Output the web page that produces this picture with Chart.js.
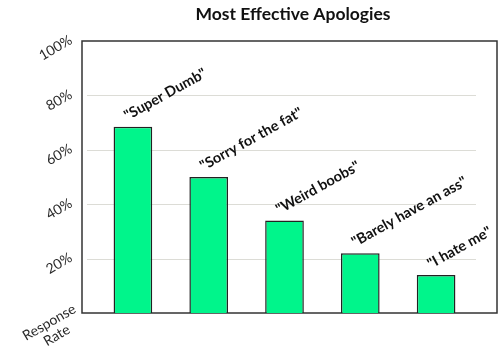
<!DOCTYPE html>
<html>
<head>
<meta charset="utf-8">
<script src="https://cdn.jsdelivr.net/npm/chart.js@4.4.0/dist/chart.umd.min.js"></script>
<style>
  html, body { margin: 0; padding: 0; background: #fff; }
  #wrap { width: 500px; height: 349px; }
</style>
</head>
<body>
<div id="wrap"><canvas id="chart"></canvas></div>
<script>
const categories = ['"Super Dumb"', '"Sorry for the fat"', '"Weird boobs"', '"Barely have an ass"', '"I hate me"'];
const responseRate = [68.5, 50, 34, 22, 14];
const tickValues = [20, 40, 60, 80, 100];
const tickLabels = ["20%", "40%", "60%", "80%", "100%"];

const deg = Math.PI / 180;

const decorPlugin = {
  id: "decor",
  beforeDatasetsDraw: (chart) => {
    const ctx = chart.ctx;
    const y = chart.scales.y;
    ctx.save();
    // gridlines (no line at 100%, the box covers it)
    ctx.strokeStyle = "#dcdcd6";
    ctx.lineWidth = 1;
    tickValues.forEach((v) => {
      if (v >= 100) return;
      const py = Math.round(y.getPixelForValue(v)) + 0.5;
      ctx.beginPath();
      ctx.moveTo(87, py);
      ctx.lineTo(476, py);
      ctx.stroke();
    });
    // frame
    const top = y.getPixelForValue(100);
    const bottom = y.getPixelForValue(0);
    ctx.strokeStyle = "#333";
    ctx.lineWidth = 1.5;
    ctx.strokeRect(82, top, 415, bottom - top);
    ctx.restore();
  },
  afterDraw: (chart) => {
    const ctx = chart.ctx;
    const y = chart.scales.y;
    ctx.save();

    // title
    ctx.fillStyle = "#111";
    ctx.font = "bold 17.5px Lato";
    ctx.textAlign = "center";
    ctx.textBaseline = "middle";
    ctx.fillText("Most Effective Apologies", 293, 14);

    // rotated y tick labels
    ctx.fillStyle = "#2a2a2a";
    ctx.font = "14px Lato";
    tickValues.forEach((v, i) => {
      ctx.save();
      ctx.translate(71, y.getPixelForValue(v) - 2);
      ctx.rotate(-30 * deg);
      ctx.textAlign = "right";
      ctx.textBaseline = "middle";
      ctx.fillText(tickLabels[i], 0, 0);
      ctx.restore();
    });

    // axis title
    ctx.save();
    ctx.translate(53, 329);
    ctx.rotate(-30 * deg);
    ctx.textAlign = "center";
    ctx.textBaseline = "middle";
    ctx.fillText("Response", 0, -7.5);
    ctx.fillText("Rate", 0, 7.5);
    ctx.restore();

    // bar labels
    ctx.fillStyle = "#111";
    ctx.font = "bold 14.5px Lato";
    const meta = chart.getDatasetMeta(0);
    meta.data.forEach((bar, i) => {
      ctx.save();
      ctx.translate(bar.x - bar.width / 2 + 14, bar.y - 6);
      ctx.rotate(-29 * deg);
      ctx.textAlign = "left";
      ctx.textBaseline = "alphabetic";
      ctx.fillText(categories[i], 0, 0);
      ctx.restore();
    });
    ctx.restore();
  },
};

new Chart(document.getElementById("chart"), {
  type: "bar",
  data: {
    labels: categories,
    datasets: [
      {
        data: responseRate,
        backgroundColor: "#00f58b",
        borderColor: "#222",
        borderWidth: 1.5,
        barPercentage: 0.51,
        categoryPercentage: 1,
      },
    ],
  },
  options: {
    responsive: true,
    maintainAspectRatio: false,
    animation: false,
    layout: { padding: { left: 95, right: 26, top: 41, bottom: 36 } },
    scales: {
      x: { display: false },
      y: { display: false, min: 0, max: 100 },
    },
    plugins: {
      legend: { display: false },
      tooltip: { enabled: false },
    },
  },
  plugins: [decorPlugin],
});
</script>
</body>
</html>
